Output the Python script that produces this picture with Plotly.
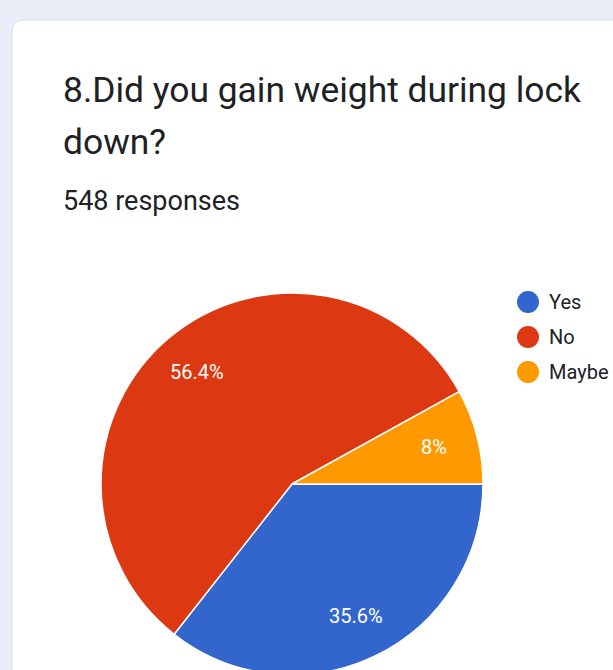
import math
import plotly.graph_objects as go

# Survey answers (548 responses)
labels = ["Yes", "No", "Maybe"]
counts = [195, 309, 44]
colors = ["#3366cc", "#dc3912", "#ff9900"]

title_lines = ["8.Did you gain weight during lock", "down?"]
subtitle = "548 responses"

W, H = 613, 680
FONT = "Roboto, Arial, sans-serif"


def px(x):
    return x / W


def py(y):
    return 1 - y / H


# pie placement (pixels)
CX, CY, R = 292, 484, 191
START = 90  # first slice starts at 3 o'clock, goes clockwise

fig = go.Figure()
fig.add_trace(go.Pie(
    labels=labels,
    values=counts,
    marker=dict(colors=colors, line=dict(color="white", width=1.5)),
    sort=False,
    direction="clockwise",
    rotation=START,
    textinfo="none",
    hoverinfo="label+percent",
    showlegend=False,
    domain=dict(x=[px(CX - R), px(CX + R)], y=[py(CY + R), py(CY - R)]),
))

shapes = []
annotations = []

# white card on the tinted page
card = (f"M {px(12)},{py(H + 10)} L {px(12)},{py(32)} "
        f"Q {px(12)},{py(20)} {px(24)},{py(20)} L {px(W + 10)},{py(20)} "
        f"L {px(W + 10)},{py(H + 10)} Z")
shapes.append(dict(type="path", path=card, xref="paper", yref="paper",
                   fillcolor="white", line=dict(color="#dadce0", width=1),
                   layer="below"))

# title and response count
annotations.append(dict(text=title_lines[0], x=px(61), y=py(90), xref="paper", yref="paper",
                        xanchor="left", yanchor="middle", showarrow=False,
                        font=dict(family=FONT, size=35.4, color="#202124")))
annotations.append(dict(text=title_lines[1], x=px(61), y=py(142), xref="paper", yref="paper",
                        xanchor="left", yanchor="middle", showarrow=False,
                        font=dict(family=FONT, size=35.4, color="#202124")))
annotations.append(dict(text=subtitle, x=px(61), y=py(201), xref="paper", yref="paper",
                        xanchor="left", yanchor="middle", showarrow=False,
                        font=dict(family=FONT, size=27, color="#202124")))

# percentage labels placed at each slice's mid-angle
total = sum(counts)
acc = 0
for c in counts:
    share = c / total
    mid = math.radians(START + 360 * (acc + share / 2))
    acc += share
    txt = f"{share * 100:.1f}".rstrip("0").rstrip(".") + "%"
    rr = 0.77 * R
    annotations.append(dict(text=txt, x=px(CX + rr * math.sin(mid)), y=py(CY - rr * math.cos(mid)),
                            xref="paper", yref="paper", showarrow=False,
                            xanchor="center", yanchor="middle",
                            font=dict(family=FONT, size=20, color="white")))

# legend with round swatches
for i, (lab, col) in enumerate(zip(labels, colors)):
    ly = 302 + 35 * i
    shapes.append(dict(type="circle", xref="paper", yref="paper",
                       x0=px(517), x1=px(539), y0=py(ly + 11), y1=py(ly - 11),
                       fillcolor=col, line=dict(width=0)))
    annotations.append(dict(text=lab, x=px(547), y=py(ly), xref="paper", yref="paper",
                            xanchor="left", yanchor="middle", showarrow=False,
                            font=dict(family=FONT, size=20, color="#202124")))

fig.update_layout(
    width=W, height=H,
    margin=dict(l=0, r=0, t=0, b=0),
    paper_bgcolor="#e9eef8",
    plot_bgcolor="#e9eef8",
    shapes=shapes,
    annotations=annotations,
)

fig.write_html("out.html", post_script="document.body.style.overflow='hidden';",
               config={"displayModeBar": False})
